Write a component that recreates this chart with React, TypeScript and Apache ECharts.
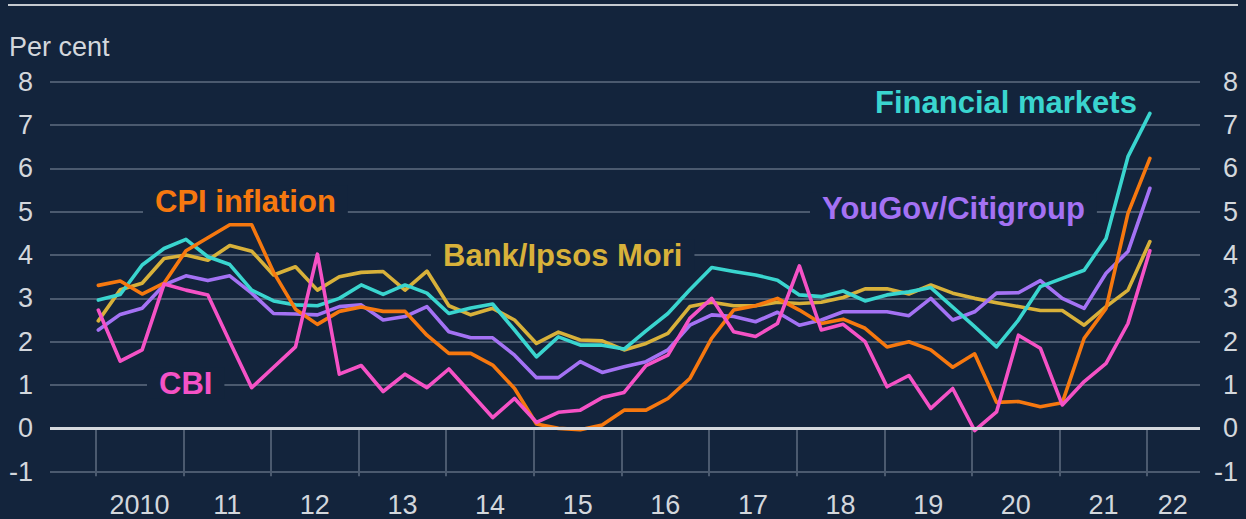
import React, { useEffect, useRef } from "react";
import * as echarts from "echarts";

// Quarterly observations, 2010 Q1 to 2022 Q1
const quarters: string[] = Array.from({ length: 49 }, (_, i) => `${2010 + Math.floor(i / 4)} Q${(i % 4) + 1}`);

const yearTicks = [2010, 2011, 2012, 2013, 2014, 2015, 2016, 2017, 2018, 2019, 2020, 2021, 2022];
const yearLabels = ["2010", "11", "12", "13", "14", "15", "16", "17", "18", "19", "20", "21", "22"];
const yTicks = [-1, 0, 1, 2, 3, 4, 5, 6, 7, 8];

const cpiInflation = [
  3.3, 3.4, 3.1, 3.35, 4.1, 4.4, 4.7, 4.7, 3.6, 2.75, 2.4, 2.7,
  2.8, 2.7, 2.7, 2.15, 1.73, 1.73, 1.46, 0.92, 0.1, 0.0, -0.03, 0.08,
  0.42, 0.42, 0.69, 1.15, 2.08, 2.73, 2.83, 3.0, 2.73, 2.42, 2.52, 2.31,
  1.88, 2.0, 1.81, 1.41, 1.72, 0.6, 0.62, 0.5, 0.59, 2.08, 2.77, 4.96, 6.23,
];
const cbi = [
  2.73, 1.55, 1.81, 3.33, 3.19, 3.08, 2.0, 0.94, 1.41, 1.88, 4.02, 1.25,
  1.45, 0.85, 1.25, 0.94, 1.37, 0.81, 0.25, 0.69, 0.14, 0.37, 0.42, 0.71,
  0.83, 1.45, 1.69, 2.54, 3.0, 2.23, 2.12, 2.42, 3.75, 2.27, 2.4, 2.0,
  0.96, 1.22, 0.46, 0.92, -0.05, 0.38, 2.15, 1.85, 0.54, 1.08, 1.5, 2.42, 4.1,
];
const yougovCitigroup = [
  2.27, 2.63, 2.77, 3.31, 3.52, 3.41, 3.52, 3.12, 2.65, 2.64, 2.62, 2.81,
  2.85, 2.5, 2.58, 2.81, 2.23, 2.09, 2.09, 1.69, 1.17, 1.17, 1.54, 1.29,
  1.42, 1.54, 1.81, 2.38, 2.62, 2.58, 2.46, 2.68, 2.38, 2.5, 2.69, 2.69,
  2.69, 2.6, 3.0, 2.5, 2.69, 3.12, 3.13, 3.41, 3.0, 2.77, 3.58, 4.08, 5.54,
];
const bankIpsosMori = [
  2.48, 3.2, 3.35, 3.92, 4.0, 3.88, 4.22, 4.09, 3.54, 3.73, 3.19, 3.5,
  3.6, 3.62, 3.19, 3.63, 2.83, 2.62, 2.77, 2.5, 1.96, 2.22, 2.04, 2.02,
  1.81, 1.96, 2.19, 2.81, 2.91, 2.83, 2.83, 2.91, 2.88, 2.91, 3.02, 3.22,
  3.22, 3.1, 3.31, 3.12, 3.0, 2.9, 2.81, 2.72, 2.72, 2.38, 2.81, 3.19, 4.31,
];
const financialMarkets = [
  2.96, 3.09, 3.77, 4.15, 4.36, 3.96, 3.78, 3.19, 2.94, 2.85, 2.83, 3.0,
  3.31, 3.09, 3.31, 3.12, 2.65, 2.78, 2.87, 2.27, 1.65, 2.11, 1.92, 1.92,
  1.83, 2.25, 2.65, 3.2, 3.71, 3.62, 3.54, 3.42, 3.08, 3.04, 3.17, 2.94,
  3.08, 3.15, 3.25, 2.8, 2.35, 1.88, 2.5, 3.27, 3.46, 3.65, 4.38, 6.27, 7.27,
];

const BG = "#13243c";
const GRID = "#4b5a6f";
const TEXT = "#d3d7dc";
const FONT = "'Liberation Sans', Arial, Helvetica, sans-serif";

const quarterToX = (q: string) => {
  const [y, qq] = q.split(" Q");
  return Number(y) + (Number(qq) - 1) / 4 + 0.03;
};

const pairs = (vals: number[]) => quarters.map((q, i) => [quarterToX(q), vals[i]]);

export default function App() {
  const ref = useRef<HTMLDivElement>(null);
  useEffect(() => {
    if (!ref.current) return;
    const chart = echarts.init(ref.current, undefined, { renderer: "svg" });

    const lineSeries = (name: string, vals: number[], color: string, extra: any = {}) => ({
      name,
      type: "line",
      data: pairs(vals),
      showSymbol: false,
      symbol: "none",
      lineStyle: { color, width: 3.6, join: "round", cap: "round" },
      itemStyle: { color },
      z: 3,
      ...extra,
    });

    const label = (text: string, color: string, left: number, cy: number, withBox = true) => ({
      type: "text",
      x: withBox ? left - 12 : left,
      y: cy,
      z: 100,
      style: withBox
        ? {
            text,
            fill: color,
            font: `bold 31px ${FONT}`,
            verticalAlign: "middle",
            align: "left",
            backgroundColor: BG,
            padding: [0, 12, 0, 12],
          }
        : {
            text,
            fill: color,
            font: `bold 31px ${FONT}`,
            verticalAlign: "middle",
            align: "left",
          },
    });

    const xLabelValues = yearTicks.map((y, i) => (i === yearTicks.length - 1 ? y + 0.29 : y + 0.5));

    chart.setOption({
      animation: false,
      backgroundColor: BG,
      grid: { left: 50, right: 46, top: 81.7, bottom: 47.3, containLabel: false },
      xAxis: {
        type: "value",
        min: 2009.4785,
        max: 2022.602,
        axisLine: { show: false },
        splitLine: { show: false },
        axisTick: {
          show: true,
          customValues: yearTicks,
          length: 48,
          lineStyle: { color: GRID, width: 2 },
        },
        axisLabel: {
          show: true,
          customValues: xLabelValues,
          margin: 20,
          color: TEXT,
          fontSize: 27,
          fontFamily: FONT,
          formatter: (v: number) => yearLabels[Math.floor(v) - 2010] ?? "",
        },
      },
      yAxis: [
        {
          type: "value",
          position: "left",
          min: yTicks[0],
          max: yTicks[yTicks.length - 1],
          interval: 1,
          axisLine: { show: false },
          axisTick: { show: false },
          axisLabel: { color: TEXT, fontSize: 27, fontFamily: FONT, margin: 17 },
          splitLine: { show: true, lineStyle: { color: GRID, width: 2 } },
        },
        {
          type: "value",
          position: "right",
          min: yTicks[0],
          max: yTicks[yTicks.length - 1],
          interval: 1,
          axisLine: { show: false },
          axisTick: { show: false },
          axisLabel: { color: TEXT, fontSize: 27, fontFamily: FONT, margin: 38, align: "right" },
          splitLine: { show: false },
        },
      ],
      series: [
        lineSeries("Bank/Ipsos Mori", bankIpsosMori, "#d8b13a", {
          markLine: {
            silent: true,
            symbol: "none",
            label: { show: false },
            lineStyle: { color: "#d5d9de", width: 3, type: "solid" },
            data: [{ yAxis: 0 }],
          },
        }),
        lineSeries("YouGov/Citigroup", yougovCitigroup, "#a472f4"),
        lineSeries("Financial markets", financialMarkets, "#3ad5cf"),
        lineSeries("CPI inflation", cpiInflation, "#f6780f"),
        lineSeries("CBI", cbi, "#f552c6"),
      ],
      graphic: [
        {
          type: "line",
          shape: { x1: 8, y1: 5, x2: 1238, y2: 5 },
          style: { stroke: "#c5cad0", lineWidth: 2 },
        },
        {
          type: "text",
          x: 9,
          y: 47,
          style: { text: "Per cent", fill: TEXT, font: `27px ${FONT}`, verticalAlign: "middle", align: "left" },
        },
        label("CPI inflation", "#f6780f", 155, 201),
        label("CBI", "#f552c6", 159, 383),
        label("Bank/Ipsos Mori", "#d8b13a", 443, 255),
        label("Financial markets", "#3ad5cf", 875, 102, false),
        label("YouGov/Citigroup", "#a472f4", 822, 208),
      ],
    });

    return () => chart.dispose();
  }, []);

  return (
    <div
      ref={ref}
      style={{ position: "fixed", left: 0, top: 0, width: 1246, height: 519 }}
    />
  );
}
